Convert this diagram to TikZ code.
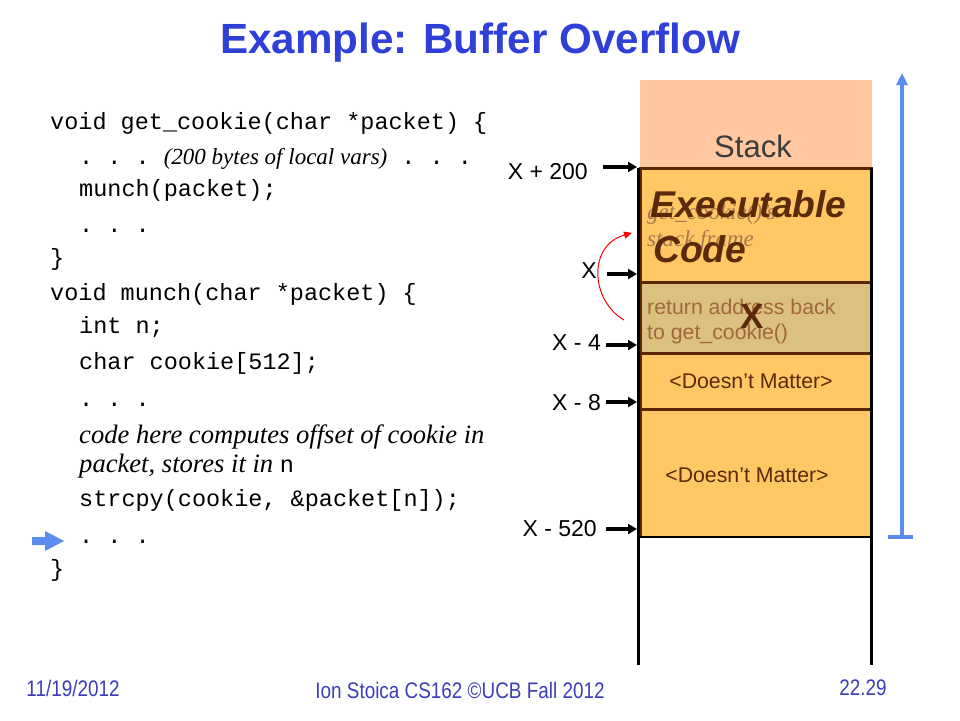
\documentclass[tikz,border=0pt]{standalone}
\usepackage{fontspec}
\setmainfont{Liberation Serif}
\setsansfont{Liberation Sans}
\setmonofont{Liberation Mono}
\newfontfamily\narrowfont[FakeStretch=0.84]{Liberation Sans}
\usetikzlibrary{arrows.meta}
\definecolor{titleblue}{RGB}{47,64,216}
\definecolor{peach}{RGB}{255,200,160}
\definecolor{orangefill}{RGB}{255,200,100}
\definecolor{tanfill}{RGB}{220,192,128}
\definecolor{brownline}{RGB}{90,40,0}
\definecolor{darkbrown}{RGB}{90,42,10}
\definecolor{fadedbrown}{RGB}{168,120,80}
\definecolor{retbrown}{RGB}{160,104,60}
\definecolor{arrowblue}{RGB}{91,141,239}
\definecolor{footblue}{RGB}{61,61,184}
\definecolor{stackgray}{RGB}{60,60,60}
\begin{document}
\begin{tikzpicture}[x=1pt,y=-1pt,
  codeline/.style={anchor=base west, inner sep=0pt, font=\ttfamily\fontsize{23.5}{28}\selectfont},
  box/.style={draw=brownline, line width=3pt, rectangle, inner sep=0pt, outer sep=0pt, anchor=north west, minimum width=231pt},
  lab/.style={anchor=east, inner sep=0pt, font=\sffamily\fontsize{23}{28}\selectfont},
  blk/.style={line width=3.4pt, -{Triangle[length=9pt,width=10pt]}},
  dm/.style={inner sep=0pt, text=darkbrown, font=\sffamily\fontsize{21.3}{25}\selectfont},
  foot/.style={inner sep=0pt, text=footblue, font=\narrowfont\fontsize{22.5}{26}\selectfont}]
\useasboundingbox (0,0) rectangle (960,720);
% title
\node[inner sep=0pt, text=titleblue, font=\sffamily\bfseries\fontsize{42.2}{50}\selectfont] (title) at (480,43) {Example: Buffer Overflow};
% code
\node[codeline] (c1) at (50,129) {void get\_cookie(char *packet) \{};
\node[codeline] (c2) at (79,164) {. . . {\rmfamily\itshape\fontsize{23}{28}\selectfont(200 bytes of local vars)} . . .};
\node[codeline] (c3) at (79,196) {munch(packet);};
\node[codeline] (c4) at (79,232) {. . .};
\node[codeline] (c5) at (50,265) {\}};
\node[codeline] (c6) at (50,300) {void munch(char *packet) \{};
\node[codeline] (c7) at (79,333) {int n;};
\node[codeline] (c8) at (79,369) {char cookie[512];};
\node[codeline] (c9) at (79,406) {. . .};
\node[codeline] (c10) at (79,443) {{\rmfamily\itshape\fontsize{26.6}{30}\selectfont code here computes offset of cookie in}};
\node[codeline] (c11) at (79,472) {{\rmfamily\itshape\fontsize{26.6}{30}\selectfont packet, stores it in }n};
\node[codeline] (c12) at (79,506) {strcpy(cookie, \&packet[n]);};
\node[codeline] (c13) at (79,543) {. . .};
\node[codeline] (c14) at (50,576) {\}};
% left blue pointer arrow
\fill[arrowblue] (32,537) -- (45,537) -- (45,531) -- (64,541) -- (45,551) -- (45,545) -- (32,545) -- cycle;
% stack
\fill[peach] (640,80) rectangle (872,168);
\node[inner sep=0pt, text=stackgray, font=\sffamily\fontsize{31}{35}\selectfont] (stack) at (753,146) {Stack};
\node[box, fill=orangefill, minimum height=114pt] (exec) at (640,168) {};
\node[box, fill=tanfill, minimum height=71pt] (ret) at (640,282) {};
\node[box, fill=orangefill, minimum height=56pt] (dm1) at (640,353) {};
\node[box, draw=none, fill=orangefill, minimum height=128pt] (dm2) at (640,409) {};
\draw[line width=3pt, brownline] (dm2.north west) -- (dm2.north east);
\draw[line width=3pt, brownline] (dm2.north west) -- (dm2.south west);
\draw[line width=3pt, brownline] (dm2.north east) -- (dm2.south east);
\draw[line width=1.5pt, black] (dm2.south west) -- (dm2.south east);
\coordinate (lt) at (638,168);
\coordinate (lb) at (638,665);
\coordinate (rt) at (871,168);
\coordinate (rb) at (871,665);
\draw[line width=3pt, black] (lt) -- (lb);
\draw[line width=3pt, black] (rt) -- (rb);
% texts in stack
\node[anchor=base west, inner sep=0pt, text=fadedbrown, font=\rmfamily\itshape\fontsize{23}{28}\selectfont] (gc1) at (647,219) {get\_cookie()'s};
\node[anchor=base west, inner sep=0pt, text=fadedbrown, font=\rmfamily\itshape\fontsize{23}{28}\selectfont] (gc2) at (647,246) {stack frame};
\node[anchor=base west, inner sep=0pt, text=darkbrown, font=\sffamily\bfseries\itshape\fontsize{37.2}{40}\selectfont] (ex1) at (650,217) {Executable};
\node[anchor=base west, inner sep=0pt, text=darkbrown, font=\sffamily\bfseries\itshape\fontsize{37.2}{40}\selectfont] (ex2) at (653,262) {Code};
\node[anchor=base west, inner sep=0pt, text=retbrown, font=\sffamily\fontsize{21.3}{25}\selectfont] (ra1) at (647,314) {return address back};
\node[anchor=base west, inner sep=0pt, text=retbrown, font=\sffamily\fontsize{21.3}{25}\selectfont] (ra2) at (647,339) {to get\_cookie()};
\node[inner sep=0pt, text=darkbrown, font=\sffamily\bfseries\fontsize{35}{38}\selectfont] (bigx) at (752,316) {X};
\node[dm] (dmt1) at (751,381) {<Doesn’t Matter>};
\node[dm] (dmt2) at (747,475) {<Doesn’t Matter>};
% address labels
\node[lab] (l200) at (588,172) {X + 200};
\node[lab] (lx) at (597,271) {X};
\node[lab] (l4) at (601,343) {X - 4};
\node[lab] (l8) at (601,403) {X - 8};
\node[lab] (l520) at (597,529) {X - 520};
\coordinate (s200) at (603,167);
\coordinate (t200) at (637,167);
\coordinate (sx) at (607,274);
\coordinate (tx) at (637,274);
\coordinate (s4) at (606,345);
\coordinate (t4) at (637,345);
\coordinate (s8) at (606,402);
\coordinate (t8) at (637,402);
\coordinate (s520) at (606,529);
\coordinate (t520) at (637,529);
\draw[blk] (s200) -- (t200);
\draw[blk] (sx) -- (tx);
\draw[blk] (s4) -- (t4);
\draw[blk] (s8) -- (t8);
\draw[blk] (s520) -- (t520);
% red curved arrow
\coordinate (rs) at (624,320);
\coordinate (re) at (632,233);
\draw[red, line width=1pt, -{Triangle[length=8pt,width=7pt]}] (rs) .. controls (590,300) and (588,245) .. (re);
% right blue arrow
\coordinate (bb) at (902,537);
\coordinate (bt) at (902,73);
\coordinate (tl) at (888,537);
\coordinate (tr) at (913,537);
\draw[arrowblue, line width=3.2pt, -{Triangle[length=12pt,width=11pt]}] (bb) -- (bt);
\draw[arrowblue, line width=3.2pt] (tl) -- (tr);
% footer
\node[foot] (f1) at (73,688) {11/19/2012};
\node[foot] (f2) at (460,690) {Ion Stoica CS162 ©UCB Fall 2012};
\node[foot] (f3) at (863,688) {22.29};
\end{tikzpicture}
\end{document}
